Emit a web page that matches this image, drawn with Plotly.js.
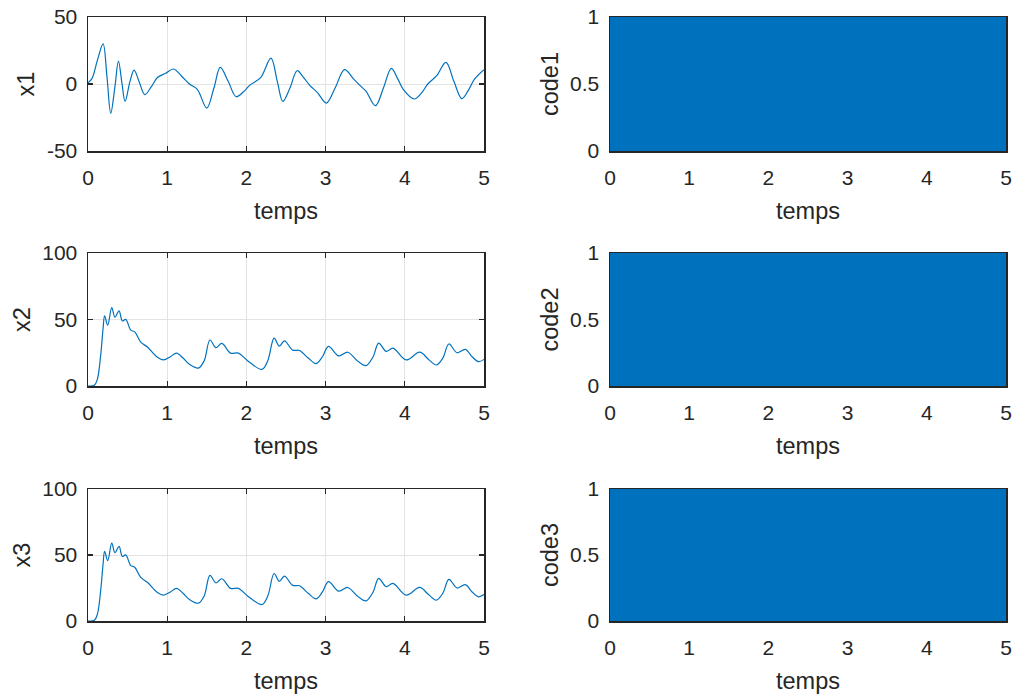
<!DOCTYPE html>
<html>
<head>
<meta charset="utf-8">
<script src="https://cdn.plot.ly/plotly-3.0.1.min.js"></script>
<style>
  html, body { margin: 0; padding: 0; background: #fff; }
  #chart { width: 1020px; height: 699px; }
</style>
</head>
<body>
<div id="chart"></div>
<script>
// State x1 over time
const x1Time = [0, 0.05, 0.12, 0.19, 0.24, 0.287, 0.34, 0.384, 0.43, 0.468, 0.53, 0.582, 0.65, 0.717, 0.80, 0.877, 0.98, 1.08, 1.18, 1.28, 1.38, 1.50, 1.59, 1.67, 1.77, 1.87, 1.96, 2.04, 2.18, 2.31, 2.39, 2.46, 2.55, 2.64, 2.72, 2.80, 2.90, 3.01, 3.12, 3.24, 3.35, 3.45, 3.51, 3.63, 3.73, 3.83, 3.91, 3.98, 4.12, 4.22, 4.29, 4.40, 4.52, 4.62, 4.72, 4.80, 4.88, 5.0];
const x1Vals = [1, 4, 18, 30, 5, -21.8, -2, 17, 0, -13, 2, 10.4, 1, -7.9, -2, 4.8, 8, 11.2, 6, 0, -4, -18, -3, 12.4, 2, -9.4, -6, -1, 4.8, 19.3, 2, -13, -3, 9.9, 5, -1, -6.6, -14.2, -3, 10.7, 4, -2, -5.3, -16.2, -3, 11.7, 4, -4, -11.2, -6, 0, 6, 16.2, 2, -10.9, -5, 3.6, 10.7];

// States x2 and x3 over time
const x2Time = [0, 0.08, 0.118, 0.16, 0.19, 0.21, 0.249, 0.30, 0.34, 0.392, 0.434, 0.476, 0.54, 0.59, 0.666, 0.75, 0.877, 0.953, 1.04, 1.117, 1.20, 1.277, 1.395, 1.467, 1.54, 1.615, 1.69, 1.80, 1.90, 2.015, 2.197, 2.27, 2.35, 2.416, 2.48, 2.585, 2.67, 2.78, 2.88, 2.96, 3.036, 3.166, 3.28, 3.40, 3.51, 3.60, 3.67, 3.765, 3.85, 4.018, 4.187, 4.30, 4.397, 4.48, 4.557, 4.66, 4.764, 4.85, 4.93, 5.0];
const x2Vals = [0, 0.5, 5, 23, 43, 52.7, 45.8, 59, 51.7, 56.5, 48.9, 50.1, 42, 40.7, 33, 29.3, 21.6, 19.6, 22, 24.7, 21, 16.5, 13.5, 19, 34.6, 28.8, 32, 24.7, 24.7, 19, 12.5, 19, 36, 30, 34, 27, 26.7, 21, 16.8, 22, 29.8, 22.6, 25.4, 19, 15.3, 22, 32.3, 26, 28.5, 19.6, 25.4, 20, 15.8, 21, 31.6, 25, 27.5, 22, 18.3, 20];
const x3Time = x2Time.slice();
const x3Vals = [0, 0.5, 5, 23, 43, 52.7, 45.8, 59, 51.7, 56.5, 48.9, 50.1, 42, 40.7, 33, 29.3, 21.6, 19.6, 22, 24.7, 21, 16.5, 13.5, 19, 34.6, 28.8, 32, 24.7, 24.7, 19, 12.5, 19, 36, 30, 34, 27, 26.7, 21, 16.8, 22, 29.8, 22.6, 25.4, 19, 15.3, 22, 32.3, 26, 28.5, 19.6, 25.4, 20, 15.8, 21, 31.6, 25, 27.5, 22, 18.3, 20];

// Binary code signals switch between 0 and 1 faster than the plot can resolve;
// they are drawn as their filled 0..1 band over the whole time span.
const codeTime = [0, 5];
const code1 = [1, 1];
const code2 = [1, 1];
const code3 = [1, 1];

const xTicks = [0, 1, 2, 3, 4, 5];
const x1Ticks = [-50, 0, 50];
const x23Ticks = [0, 50, 100];
const codeTicks = [0, 0.5, 1];

const BLUE = '#0072BD';
const INK = '#262626';
const FONT = '"Liberation Sans", Arial, Helvetica, sans-serif';

const traces = [
  { x: x1Time, y: x1Vals, xaxis: 'x', yaxis: 'y', type: 'scatter', mode: 'lines',
    line: { color: BLUE, width: 1.2, shape: 'spline', smoothing: 1 } },
  { x: codeTime, y: code1, xaxis: 'x2', yaxis: 'y2', type: 'scatter', mode: 'lines',
    fill: 'tozeroy', fillcolor: BLUE, line: { color: BLUE, width: 0 } },
  { x: x2Time, y: x2Vals, xaxis: 'x3', yaxis: 'y3', type: 'scatter', mode: 'lines',
    line: { color: BLUE, width: 1.2, shape: 'spline', smoothing: 1 } },
  { x: codeTime, y: code2, xaxis: 'x4', yaxis: 'y4', type: 'scatter', mode: 'lines',
    fill: 'tozeroy', fillcolor: BLUE, line: { color: BLUE, width: 0 } },
  { x: x3Time, y: x3Vals, xaxis: 'x5', yaxis: 'y5', type: 'scatter', mode: 'lines',
    line: { color: BLUE, width: 1.2, shape: 'spline', smoothing: 1 } },
  { x: codeTime, y: code3, xaxis: 'x6', yaxis: 'y6', type: 'scatter', mode: 'lines',
    fill: 'tozeroy', fillcolor: BLUE, line: { color: BLUE, width: 0 } }
];

const W = 1020, H = 699;
const colDom = [[88 / W, 484 / W], [610 / W, 1006 / W]];
const rowPx = [[17, 151], [253, 386], [489, 621]];
const rowDom = rowPx.map(r => [1 - r[1] / H, 1 - r[0] / H]);

function xAxis(col, row, anchor, isCode) {
  return {
    domain: colDom[col], anchor: anchor, range: [0, 5],
    tickvals: xTicks, ticktext: xTicks.map(String),
    ticks: 'inside', ticklen: 5, tickwidth: 1.3, tickcolor: INK,
    showline: true, mirror: isCode ? true : 'ticks', linecolor: INK, linewidth: 1.5,
    showgrid: !isCode, gridcolor: '#e3e3e3', gridwidth: 1,
    zeroline: false, layer: isCode ? 'below traces' : 'above traces',
    tickfont: { family: FONT, size: 21, color: INK },
    ticklabelstandoff: 7,
    title: { text: 'temps', font: { family: FONT, size: 23.5, color: INK }, standoff: 15 }
  };
}
function yAxis(col, row, anchor, label, range, ticks, isCode) {
  return {
    domain: rowDom[row], anchor: anchor, range: range,
    tickvals: ticks, ticktext: ticks.map(String),
    ticks: 'inside', ticklen: 5, tickwidth: 1.3, tickcolor: INK,
    showline: true, mirror: isCode ? true : 'ticks', linecolor: INK, linewidth: 1.5,
    showgrid: !isCode, gridcolor: '#e3e3e3', gridwidth: 1,
    zeroline: false, layer: isCode ? 'below traces' : 'above traces',
    tickfont: { family: FONT, size: 21, color: INK },
    ticklabelstandoff: 5,
    title: { text: label, font: { family: FONT, size: 23.5, color: INK }, standoff: 5 }
  };
}

const layout = {
  width: W, height: H,
  margin: { l: 0, r: 0, t: 0, b: 0 },
  paper_bgcolor: '#fff', plot_bgcolor: '#fff',
  showlegend: false,
  xaxis:  xAxis(0, 0, 'y', false),
  yaxis:  yAxis(0, 0, 'x', 'x1', [-50, 50], x1Ticks, false),
  xaxis2: xAxis(1, 0, 'y2', true),
  yaxis2: yAxis(1, 0, 'x2', 'code1', [0, 1], codeTicks, true),
  xaxis3: xAxis(0, 1, 'y3', false),
  yaxis3: yAxis(0, 1, 'x3', 'x2', [0, 100], x23Ticks, false),
  xaxis4: xAxis(1, 1, 'y4', true),
  yaxis4: yAxis(1, 1, 'x4', 'code2', [0, 1], codeTicks, true),
  xaxis5: xAxis(0, 2, 'y5', false),
  yaxis5: yAxis(0, 2, 'x5', 'x3', [0, 100], x23Ticks, false),
  xaxis6: xAxis(1, 2, 'y6', true),
  yaxis6: yAxis(1, 2, 'x6', 'code3', [0, 1], codeTicks, true)
};

Plotly.newPlot('chart', traces, layout, { displayModeBar: false, staticPlot: true });
</script>
</body>
</html>
